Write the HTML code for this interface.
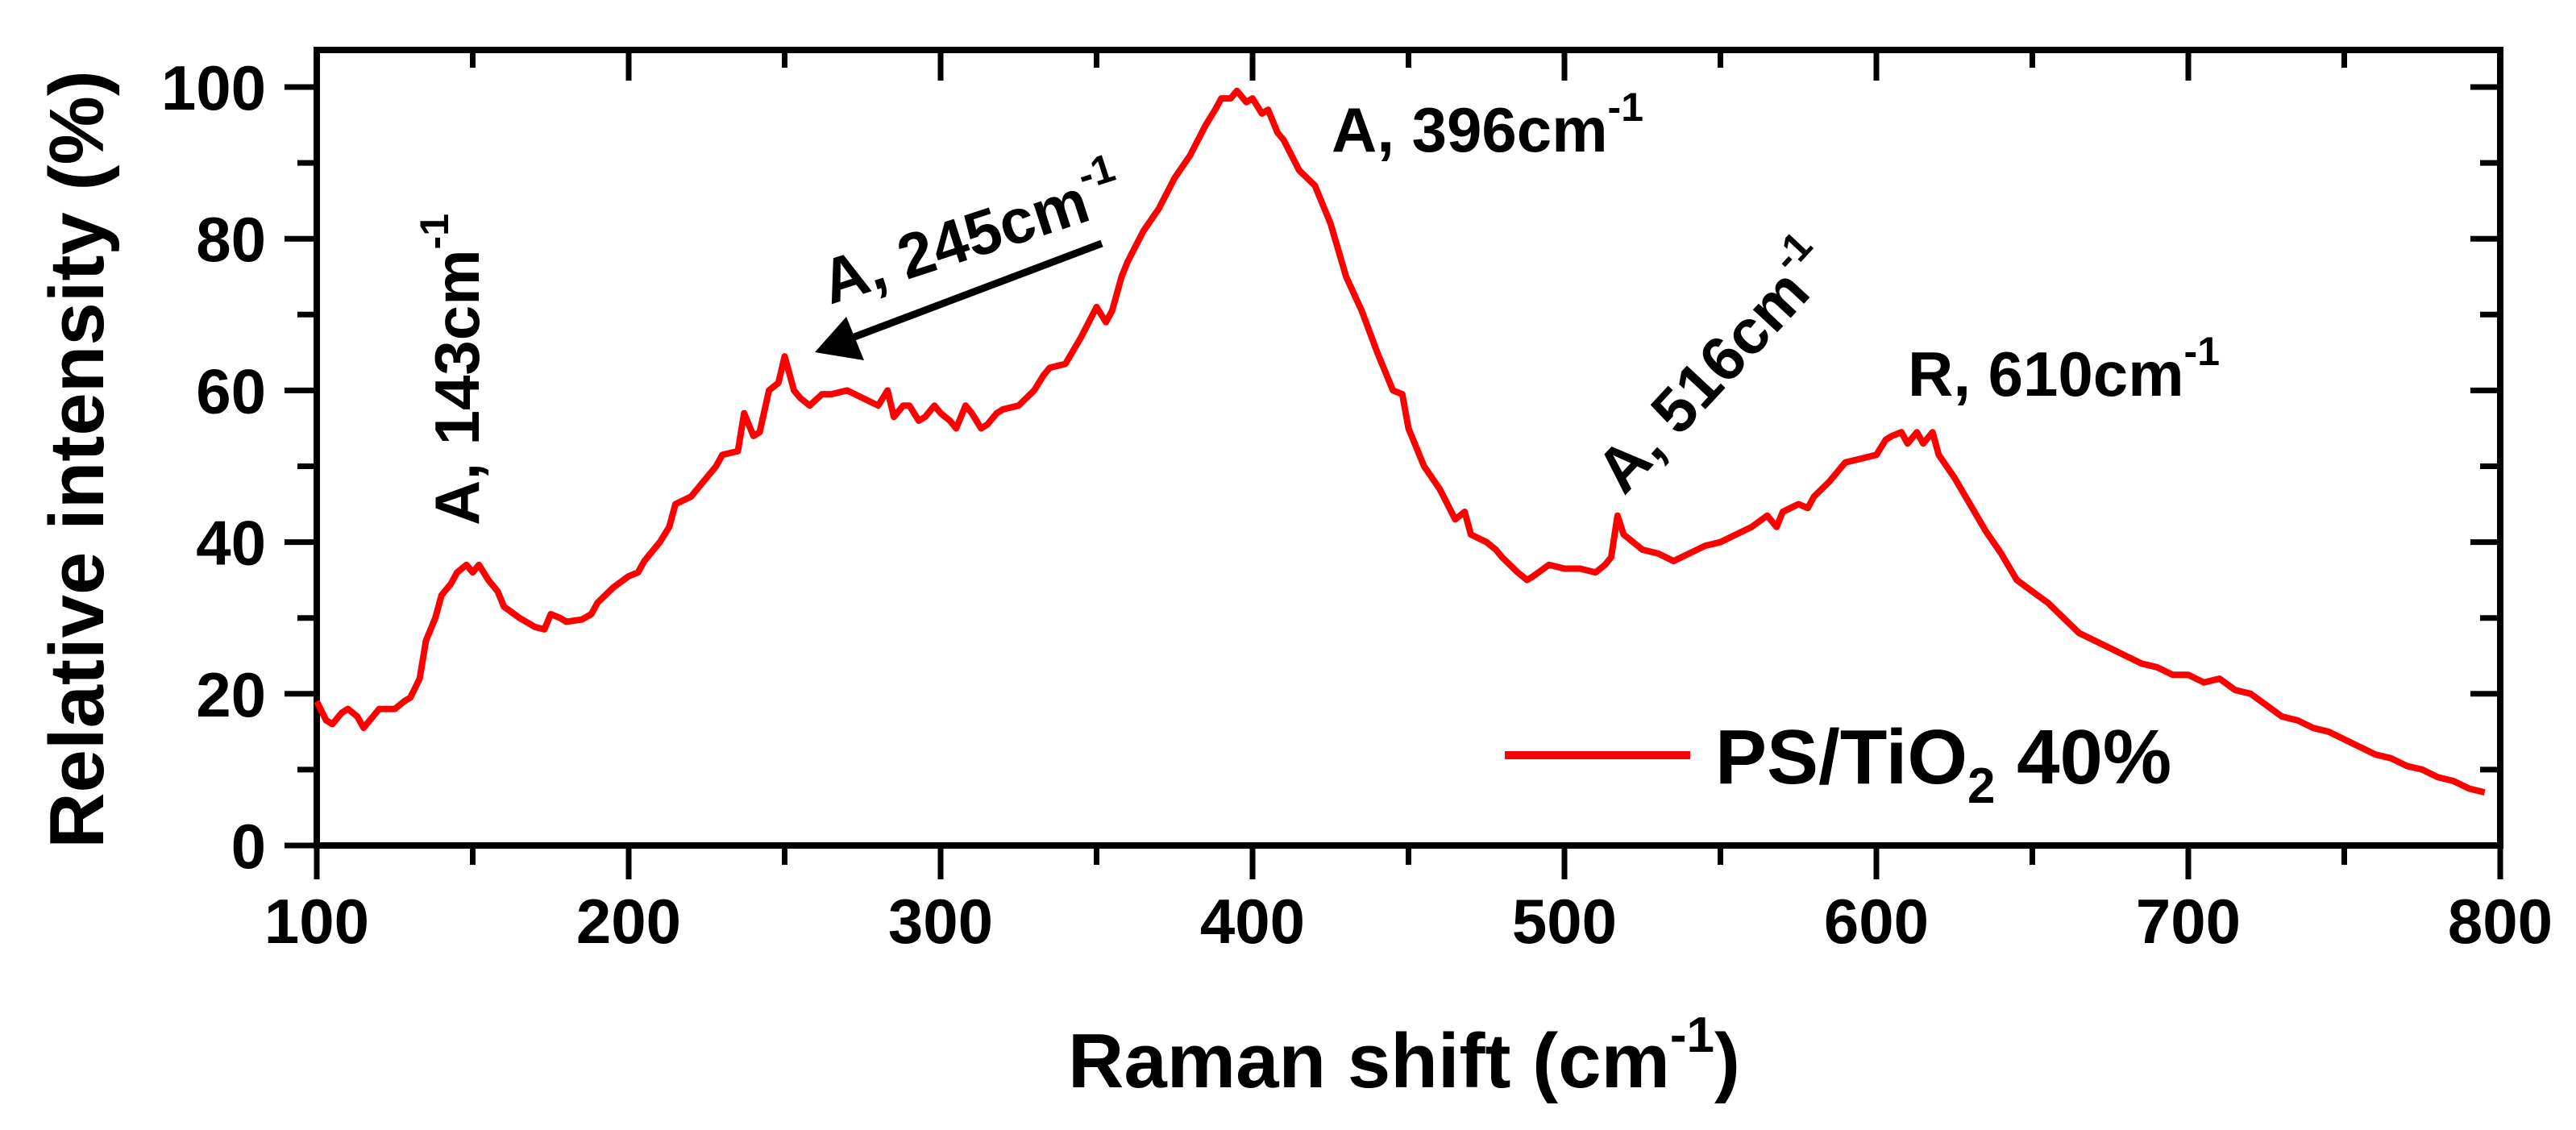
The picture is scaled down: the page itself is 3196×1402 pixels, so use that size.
<!DOCTYPE html>
<html><head><meta charset="utf-8"><style>
html,body{margin:0;padding:0;background:#fff}
svg{display:block}
text{font-family:"Liberation Sans",Arial,sans-serif;font-weight:bold;fill:#000}
</style></head><body>
<svg id="chart" width="3196" height="1402" viewBox="0 0 3196 1402" xmlns="http://www.w3.org/2000/svg">
<g id="axes"></g>
<g id="series"></g>
<g id="annot">
  <text font-size="78" transform="translate(594,652) rotate(-90)">A, 143cm<tspan font-size="50" dy="-38">-1</tspan></text>
  <text font-size="78" transform="translate(1030,378) rotate(-18)">A, 245cm<tspan font-size="50" dy="-38">-1</tspan></text>
  <g>
    <line x1="1367" y1="302" x2="1060" y2="418" stroke="#000" stroke-width="9"/>
    <polygon points="1011,437 1050,393 1072,447" fill="#000"/>
  </g>
  <text font-size="78" x="1652" y="188">A, 396cm<tspan font-size="50" dy="-38">-1</tspan></text>
  <text font-size="78" transform="translate(2015,616) rotate(-47)">A, 516cm<tspan font-size="50" dy="-38">-1</tspan></text>
  <text font-size="78" x="2367" y="491">R, 610cm<tspan font-size="50" dy="-38">-1</tspan></text>
</g>
<g id="legend">
  <line x1="1867" y1="937" x2="2097" y2="937" stroke="#ff0000" stroke-width="10"/>
  <text font-size="96" x="2128" y="972">PS/TiO<tspan font-size="62" dy="24">2</tspan><tspan dy="-24"> 40%</tspan></text>
</g>
<text font-size="96" x="1742" y="1349" text-anchor="middle">Raman shift (cm<tspan font-size="62" dy="-44">-1</tspan><tspan dy="44">)</tspan></text>
<text font-size="96" text-anchor="middle" transform="translate(128,570) rotate(-90)">Relative intensity (%)</text>
</svg>
<script>
const xVals=[100,103,105,108,110,113,115,118,120,125,128,130,133,135,138,140,143,145,148,150,152,155,158,160,165,170,173,175,178,180,185,188,190,195,200,203,205,210,213,215,220,225,228,230,235,237,240,242,245,248,250,253,255,258,262,265,270,275,280,283,285,288,290,293,295,298,300,303,305,308,310,313,315,318,320,325,330,333,335,340,345,350,353,355,358,360,365,370,375,380,385,388,390,393,395,398,400,403,405,408,410,415,420,425,430,435,440,445,448,450,455,460,465,468,470,475,478,480,485,488,490,495,500,505,510,513,515,517,519,522,525,530,535,540,545,550,555,560,565,568,570,575,578,580,585,590,595,600,603,605,608,610,613,615,618,620,625,630,635,640,645,650,655,660,665,670,675,680,685,690,695,700,705,710,715,720,725,730,735,740,745,750,755,760,765,770,775,780,785,790,795,800];
const yVals=[19,16.5,16,17.5,18,17,15.5,17,18,18,19,19.5,22,27,30,33,34.5,36,37,36,37,35,33.5,31.5,30,28.8,28.5,30.5,30,29.5,29.8,30.5,32,34,35.5,36,37.5,40,42,45,46,48.5,50,51.5,52,57,54,54.5,60,61,64.5,60,59,58,59.5,59.5,60,59,58,60,56.5,58,58,56,56.5,58,57,56,55,58,57,55,55.5,57,57.5,58,60,62,63,63.5,67,71,69,70.5,75,77,81,84,88,91,95,97,98.5,98.5,99.5,98,98.5,96.5,97,94,93,89,87,82,75,70.5,65,60,59.5,55,50,47,43,44,41,40,39,38,36,35,35.5,37,36.5,36.5,36,37,38,43.5,41,40,39,38.5,37.5,38.5,39.5,40,41,42,43.5,42,44,45,44.5,46,48,50.5,51,51.5,53.5,54,54.5,53,54.5,53,54.5,51.5,48.5,45,41.5,38.5,35,33.5,32,30,28,27,26,25,24,23.5,22.5,22.5,21.5,22,20.5,20,18.5,17,16.5,15.5,15,14,13,12,11.5,10.5,10,9,8.5,7.5,7];
const xTicks=[100,200,300,400,500,600,700,800];
const yTicks=[0,20,40,60,80,100];
const L=393,R=3102,T=62,B=1049;
function xs(v){return L+(v-100)*(R-L)/700;}
function ys(v){return B-v*(B-108)/100;}
const NS="http://www.w3.org/2000/svg";
const axes=document.getElementById('axes');
function mk(tag,attrs,parent){const e=document.createElementNS(NS,tag);for(const k in attrs)e.setAttribute(k,attrs[k]);parent.appendChild(e);return e;}
// frame
const frame=mk('rect',{x:L,y:T,width:R-L,height:B-T,fill:'none',stroke:'#000','stroke-width':8},axes);


// x ticks
for(let v=100;v<=800;v+=50){
  const major=(v%100===0);
  const x=xs(v);
  const t=mk('line',{x1:x,y1:B,x2:x,y2:B+(major?42:24),stroke:'#000','stroke-width':7},axes);
  
  
  const t2=mk('line',{x1:x,y1:T,x2:x,y2:T+(major?38:22),stroke:'#000','stroke-width':7},axes);
  
  
}
xTicks.forEach(v=>{
  const tx=mk('text',{x:xs(v),y:1170,'font-size':78,'text-anchor':'middle'},axes);
  tx.textContent=v;
  
  
});
// y ticks
for(let v=0;v<=100;v+=10){
  const major=(v%20===0);
  const y=ys(v);
  const t=mk('line',{x1:L,y1:y,x2:L-(major?40:24),y2:y,stroke:'#000','stroke-width':7},axes);
  
  
  const t2=mk('line',{x1:R,y1:y,x2:R-(major?37:25),y2:y,stroke:'#000','stroke-width':7},axes);
  
  
}
yTicks.forEach(v=>{
  const ty=mk('text',{x:330,y:ys(v)+28,'font-size':78,'text-anchor':'end'},axes);
  ty.textContent=v;
  
  
});
// series
const pts=xVals.map((v,i)=>xs(v).toFixed(1)+','+ys(yVals[i]).toFixed(1)).join(' ');
const pl=mk('polyline',{points:pts,fill:'none',stroke:'#ff0000','stroke-width':8,'stroke-linejoin':'round'},document.getElementById('series'));


</script>
</body></html>
